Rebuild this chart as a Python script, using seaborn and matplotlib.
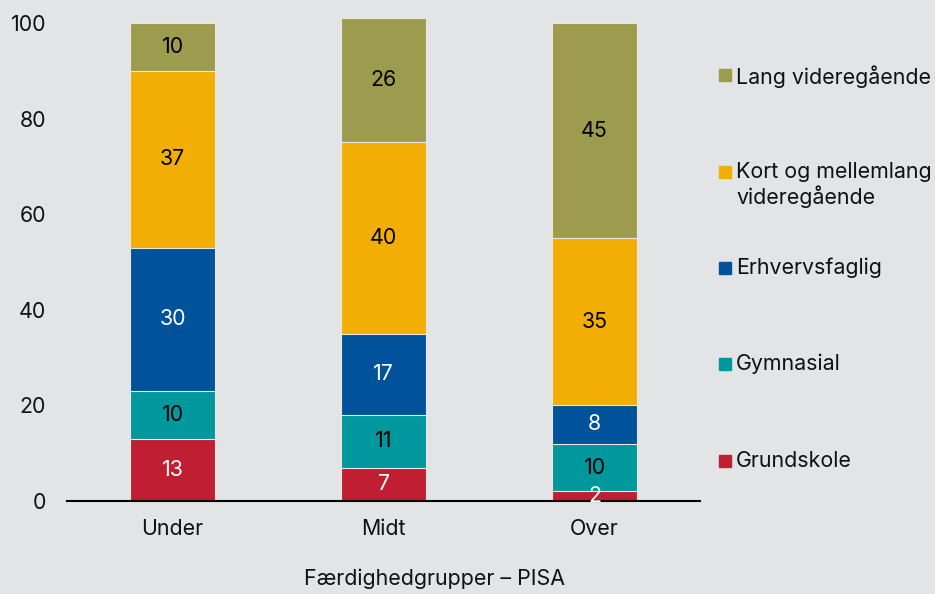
import numpy as np
import pandas as pd
import matplotlib
matplotlib.use("Agg")
import matplotlib.pyplot as plt
import seaborn as sns

# categories on the x axis
groups = ["Under", "Midt", "Over"]

# education levels, bottom to top of the stack
levels = ["Grundskole", "Gymnasial", "Erhvervsfaglig",
          "Kort og mellemlang\nvideregående", "Lang videregående"]
grundskole = [13, 7, 2]
gymnasial = [10, 11, 10]
erhvervsfaglig = [30, 17, 8]
kort_mellemlang = [37, 40, 35]
lang = [10, 26, 45]

colors = ["#c01f33", "#00979d", "#00529b", "#f2ae05", "#9c9b4e"]
text_colors = ["white", "black", "white", "black", "black"]
bg = "#e3e4e6"
fs = 15.4

sns.set_theme(style="white")
plt.rcParams["font.family"] = ["Inter", "DejaVu Sans"]
plt.rcParams["font.size"] = fs

values = np.array([grundskole, gymnasial, erhvervsfaglig, kort_mellemlang, lang])
cum = values.cumsum(axis=0)

fig = plt.figure(figsize=(9.35, 5.94), dpi=100, facecolor=bg)
ax = fig.add_axes([0.0717, 0.1566, 0.677, 0.8369])
ax.set_facecolor(bg)

# stacked bars: draw cumulative totals from the top layer down
for i in reversed(range(len(levels))):
    df = pd.DataFrame({"group": groups, "value": cum[i]})
    sns.barplot(data=df, x="group", y="value", color=colors[i], width=0.4,
                saturation=1, errorbar=None, edgecolor="#e8e8e0",
                linewidth=0.8, ax=ax)

# segment labels
for i in range(len(levels)):
    for j in range(len(groups)):
        mid = cum[i][j] - values[i][j] / 2
        ax.text(j, mid, str(values[i][j]), ha="center", va="center",
                color=text_colors[i], fontsize=fs)

ax.set_ylim(0, 104)
ax.set_xlim(-0.5, 2.5)
ax.set_yticks([0, 20, 40, 60, 80, 100])
ax.tick_params(axis="y", length=0, pad=15, labelsize=fs, labelcolor="#111111")
ax.tick_params(axis="x", length=0, pad=13, labelsize=fs, labelcolor="#111111")
ax.set_ylabel("")
ax.set_xlabel("Færdighedgrupper – PISA", fontsize=fs, color="#111111")
ax.xaxis.set_label_coords(0.58, -0.135)
for s in ["top", "right", "left"]:
    ax.spines[s].set_visible(False)
ax.spines["bottom"].set_color("black")
ax.spines["bottom"].set_linewidth(1.5)

# legend, top to bottom, aligned on first line of each label
legend_y = [75, 172, 268, 364, 461]
for k, i in enumerate(reversed(range(len(levels)))):
    y = 1 - legend_y[k] / 594
    fig.patches.append(plt.Rectangle((719 / 935, y - 6 / 594), 12 / 935, 12 / 594,
                                     transform=fig.transFigure, color=colors[i]))
    fig.text(736 / 935, y + 10 / 594, levels[i], ha="left", va="top",
             fontsize=fs, color="#111111", linespacing=1.2)

fig.savefig("out.png", dpi=100, facecolor=bg)
